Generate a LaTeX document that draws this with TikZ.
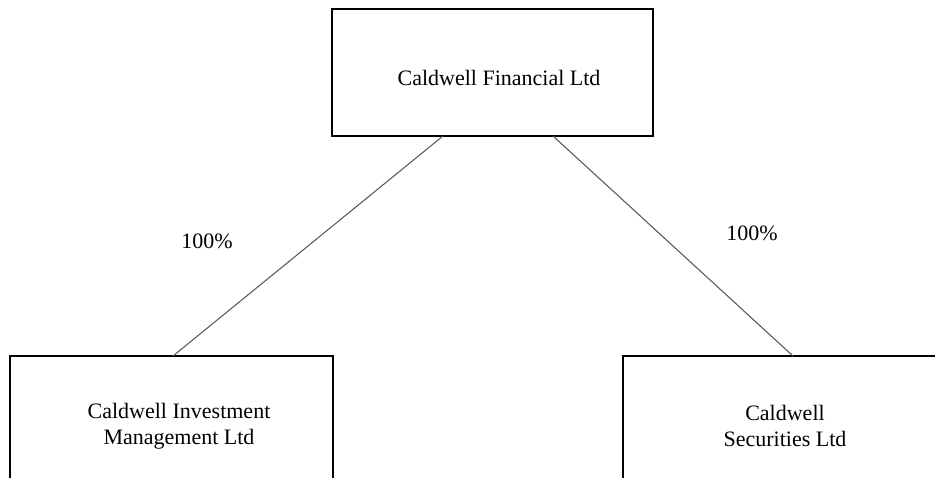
\documentclass[tikz,border=0pt]{standalone}
\usepackage{fontspec}
\setmainfont{Liberation Serif}

\tikzset{every picture/.style={line width=0.75pt}}
\tikzset{
  boxline/.style={line width=1.1},
  ownline/.style={draw=black!65, line width=0.8},
  txt/.style={inner sep=0.75pt, align=center, font=\fontsize{16.5}{19.5}\selectfont},
}

\begin{document}
\begin{tikzpicture}[x=0.75pt,y=0.75pt,yscale=-1,xscale=1]
\useasboundingbox (0,0) rectangle (935,478);
\clip (0,0) rectangle (935,478);

%Shape: Rectangle [id:parent]
\draw  [boxline]  (332,9) -- (653,9) -- (653,136) -- (332,136) -- cycle ;
%Shape: Rectangle [id:cim]
\draw  [boxline]  (10,356) -- (333,356) -- (333,500) -- (10,500) -- cycle ;
%Shape: Rectangle [id:csl]
\draw  [boxline]  (623,356) -- (960,356) -- (960,500) -- (623,500) -- cycle ;

% Connector ends
\coordinate (finL) at (443,136);
\coordinate (finR) at (553,136);
\coordinate (cimT) at (173,356);
\coordinate (cslT) at (793,356);

%Straight Lines [id:own1]
\draw  [ownline]  (finL) -- (cimT) ;
%Straight Lines [id:own2]
\draw  [ownline]  (finR) -- (cslT) ;

% Text Node
\node [txt] (fin) at (499,78) {Caldwell Financial Ltd};
% Text Node
\node [txt] (cim) at (179,426) {Caldwell Investment\\Management Ltd};
% Text Node
\node [txt] (csl) at (785,426) {Caldwell\\Securities Ltd};
% Text Node
\node [txt] (pct1) at (207,241) {100\%};
% Text Node
\node [txt] (pct2) at (752,233) {100\%};

\end{tikzpicture}
\end{document}
